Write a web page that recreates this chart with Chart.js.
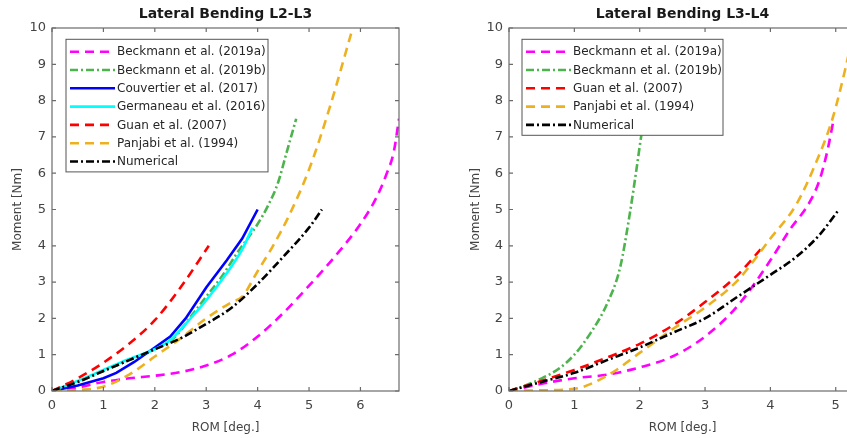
<!DOCTYPE html>
<html lang="en">
<head>
<meta charset="UTF-8">
<title>Lateral Bending</title>
<script src="https://cdn.jsdelivr.net/npm/chart.js@4.4.0/dist/chart.umd.min.js"></script>
<style>
    html, body { margin: 0; padding: 0; background: #fff; width: 847px; height: 438px; overflow: hidden; }
    .wrap { position: absolute; top: 0; height: 438px; }
    #wrapL { left: 0; width: 430px; }
    #wrapR { left: 450px; width: 420px; }
</style>
</head>
<body>
<div class="wrap" id="wrapL"><canvas id="chartL23" width="430" height="438"></canvas></div>
<div class="wrap" id="wrapR"><canvas id="chartL34" width="420" height="438"></canvas></div>
<script>
// ---- L2-L3 curves: ROM [deg.] / Moment [Nm] ----
const beckA23_x = [0, 0.5, 1, 1.5, 2, 2.5, 3, 3.5, 4, 4.5, 5, 5.5, 6, 6.3, 6.5, 6.65, 6.75];
const beckA23_y = [0, 0.1, 0.25, 0.35, 0.42, 0.52, 0.7, 1.0, 1.5, 2.15, 2.9, 3.7, 4.6, 5.3, 5.95, 6.6, 7.5];
const beckB23_x = [0, 0.5, 1, 1.5, 2, 2.4, 2.7, 3, 3.3, 3.6, 4, 4.2, 4.4, 4.55, 4.75];
const beckB23_y = [0, 0.25, 0.55, 0.85, 1.15, 1.5, 2.05, 2.6, 3.15, 3.8, 4.6, 5.1, 5.75, 6.5, 7.5];
const couv23_x = [0, 0.5, 1, 1.25, 1.6, 2, 2.3, 2.6, 3, 3.4, 3.7, 4];
const couv23_y = [0, 0.15, 0.35, 0.5, 0.8, 1.2, 1.5, 2.0, 2.85, 3.6, 4.2, 5.0];
const germ23_x = [0, 0.5, 1, 1.5, 2, 2.3, 2.6, 3, 3.4, 3.7, 3.9];
const germ23_y = [0, 0.28, 0.58, 0.88, 1.15, 1.4, 1.85, 2.5, 3.25, 3.9, 4.5];
const guan23_x = [0, 0.5, 1, 1.5, 2, 2.5, 3.05];
const guan23_y = [0, 0.35, 0.78, 1.3, 1.95, 2.85, 4.0];
const panj23_x = [0, 0.5, 1, 1.5, 2, 2.5, 3, 3.5, 3.7, 4, 4.3, 4.6, 5, 5.4, 5.85];
const panj23_y = [0, 0.03, 0.12, 0.45, 0.95, 1.45, 2.0, 2.45, 2.6, 3.3, 4.0, 4.8, 6.1, 7.8, 10];
const num23_x = [0, 0.5, 1, 1.5, 2, 2.5, 3, 3.5, 4, 4.5, 5, 5.25];
const num23_y = [0, 0.25, 0.55, 0.85, 1.15, 1.45, 1.85, 2.3, 2.95, 3.7, 4.5, 5.0];

// ---- L3-L4 curves ----
const beckA34_x = [0, 0.5, 1, 1.5, 2, 2.5, 3, 3.5, 4, 4.3, 4.6, 4.75, 4.87, 4.97];
const beckA34_y = [0, 0.2, 0.35, 0.45, 0.65, 0.95, 1.5, 2.35, 3.6, 4.45, 5.2, 5.8, 6.6, 7.5];
const beckB34_x = [0, 0.25, 0.5, 0.75, 1, 1.25, 1.5, 1.7, 1.85, 1.95, 2.03, 2.07];
const beckB34_y = [0, 0.15, 0.35, 0.6, 1.0, 1.6, 2.4, 3.4, 4.9, 6.1, 7.1, 7.5];
const guan34_x = [0, 0.5, 1, 1.5, 2, 2.5, 3, 3.5, 3.85];
const guan34_y = [0, 0.28, 0.58, 0.92, 1.3, 1.8, 2.45, 3.2, 3.9];
const panj34_x = [0, 0.5, 1, 1.5, 2, 2.5, 3, 3.5, 4, 4.4, 4.7, 4.95, 5.15, 5.31];
const panj34_y = [0, 0.02, 0.06, 0.42, 1.05, 1.7, 2.3, 3.05, 4.2, 5.15, 6.3, 7.5, 8.9, 10.2];
const num34_x = [0, 0.5, 1, 1.5, 2, 2.5, 3, 3.5, 4, 4.4, 4.75, 5.05];
const num34_y = [0, 0.25, 0.5, 0.85, 1.2, 1.6, 2.0, 2.6, 3.2, 3.7, 4.3, 5.0];

// axis limits / ticks
const yTicks = [0, 1, 2, 3, 4, 5, 6, 7, 8, 9, 10];
const xMax23 = 6.75;
const xMax34 = 5.31;

const FONT = 'DejaVu Sans';
const DASH = [9, 6];
const DASHDOT = [8, 3, 2, 3];

function pts(xs, ys) {
    return xs.map((x, i) => ({ x: x, y: ys[i] }));
}

function series(label, xs, ys, color, dash, smooth) {
    return {
        label: label,
        data: pts(xs, ys),
        borderColor: color,
        backgroundColor: color,
        borderWidth: 2.6,
        borderDash: dash,
        pointRadius: 0,
        fill: false,
        cubicInterpolationMode: smooth ? 'monotone' : 'default',
        tension: 0
    };
}

// box around the axes with inward tick marks on all four sides
const axesBox = {
    id: 'axesBox',
    afterDatasetsDraw(chart) {
        const { ctx, chartArea: a, scales } = chart;
        ctx.save();
        ctx.strokeStyle = '#6b6b6b';
        ctx.lineWidth = 1.2;
        ctx.setLineDash([]);
        ctx.strokeRect(a.left, a.top, a.right - a.left, a.bottom - a.top);
        const len = 4;
        ctx.beginPath();
        scales.x.ticks.forEach(t => {
            const px = scales.x.getPixelForValue(t.value);
            ctx.moveTo(px, a.bottom); ctx.lineTo(px, a.bottom - len);
            ctx.moveTo(px, a.top); ctx.lineTo(px, a.top + len);
        });
        scales.y.ticks.forEach(t => {
            const py = scales.y.getPixelForValue(t.value);
            ctx.moveTo(a.left, py); ctx.lineTo(a.left + len, py);
            ctx.moveTo(a.right, py); ctx.lineTo(a.right - len, py);
        });
        ctx.stroke();
        ctx.restore();
    }
};

// legend box in the upper left corner of the axes, white fill on top of the lines
const boxLegend = {
    id: 'boxLegend',
    afterDatasetsDraw(chart, args, opts) {
        const { ctx, chartArea: a } = chart;
        const sets = chart.data.datasets;
        const rowH = 18.3;
        const x0 = a.left + opts.left;
        const firstRow = a.top + 23.7;
        const y0 = firstRow - 12.4;
        const h = sets.length * rowH + 4.5;
        ctx.save();
        ctx.fillStyle = '#fff';
        ctx.fillRect(x0, y0, opts.width, h);
        ctx.strokeStyle = '#555';
        ctx.lineWidth = 1;
        ctx.strokeRect(x0, y0, opts.width, h);
        ctx.font = '12px "' + FONT + '"';
        ctx.textBaseline = 'middle';
        ctx.textAlign = 'left';
        sets.forEach((ds, i) => {
            const cy = firstRow + i * rowH;
            ctx.strokeStyle = ds.borderColor;
            ctx.lineWidth = ds.borderWidth;
            ctx.setLineDash(ds.borderDash || []);
            ctx.beginPath();
            ctx.moveTo(x0 + 4, cy);
            ctx.lineTo(x0 + 49, cy);
            ctx.stroke();
            ctx.setLineDash([]);
            ctx.fillStyle = '#262626';
            ctx.fillText(ds.label, x0 + 51, cy + 0.5);
        });
        ctx.restore();
    }
};

// bold title centred over the axes
const axesTitle = {
    id: 'axesTitle',
    afterDraw(chart, args, opts) {
        const { ctx, chartArea: a } = chart;
        ctx.save();
        ctx.font = 'bold 14px "' + FONT + '"';
        ctx.fillStyle = '#1a1a1a';
        ctx.textAlign = 'center';
        ctx.textBaseline = 'middle';
        ctx.fillText(opts.text, (a.left + a.right) / 2, 14.5);
        ctx.restore();
    }
};

function makeChart(id, datasets, cfg) {
    return new Chart(document.getElementById(id), {
        type: 'line',
        data: { datasets: datasets },
        plugins: [axesBox, boxLegend, axesTitle],
        options: {
            responsive: false,
            animation: false,
            layout: { padding: { top: 28, right: cfg.padRight, left: 0, bottom: 0 } },
            plugins: {
                legend: { display: false },
                tooltip: { enabled: false },
                boxLegend: { left: cfg.legendLeft, width: cfg.legendWidth },
                axesTitle: { text: cfg.title }
            },
            scales: {
                x: {
                    type: 'linear',
                    min: 0,
                    max: cfg.xMax,
                    afterFit(s) { s.height = 47; },
                    grid: { display: false, drawTicks: false },
                    border: { display: false },
                    ticks: {
                        stepSize: 1, includeBounds: false, autoSkip: false, maxRotation: 0,
                        padding: 7, color: '#444', font: { family: FONT, size: 13 }
                    },
                    title: {
                        display: true, text: 'ROM [deg.]', color: '#444',
                        font: { family: FONT, size: 12 }, padding: { top: 0, bottom: 3 }
                    }
                },
                y: {
                    type: 'linear',
                    min: yTicks[0],
                    max: yTicks[yTicks.length - 1],
                    afterFit(s) { s.width = cfg.yWidth; },
                    afterBuildTicks(s) { s.ticks = yTicks.map(v => ({ value: v })); },
                    grid: { display: false, drawTicks: false },
                    border: { display: false },
                    ticks: {
                        autoSkip: false, padding: 6, color: '#444',
                        font: { family: FONT, size: 13 }
                    },
                    title: {
                        display: true, text: 'Moment [Nm]', color: '#444',
                        font: { family: FONT, size: 12 }, padding: { top: cfg.yTitlePad, bottom: 0 }
                    }
                }
            }
        }
    });
}

const setsL23 = [
    series('Beckmann et al. (2019a)', beckA23_x, beckA23_y, '#ff00ff', DASH, true),
    series('Beckmann et al. (2019b)', beckB23_x, beckB23_y, '#4db34d', DASHDOT, true),
    series('Couvertier et al. (2017)', couv23_x, couv23_y, '#0000ff', [], false),
    series('Germaneau et al. (2016)', germ23_x, germ23_y, '#00ffff', [], true),
    series('Guan et al. (2007)', guan23_x, guan23_y, '#ff0000', DASH, true),
    series('Panjabi et al. (1994)', panj23_x, panj23_y, '#edb120', DASH, true),
    series('Numerical', num23_x, num23_y, '#000000', DASHDOT, true)
];
// later series are drawn on top
setsL23.forEach((d, i) => { d.order = setsL23.length - i; });

const setsL34 = [
    series('Beckmann et al. (2019a)', beckA34_x, beckA34_y, '#ff00ff', DASH, true),
    series('Beckmann et al. (2019b)', beckB34_x, beckB34_y, '#4db34d', DASHDOT, true),
    series('Guan et al. (2007)', guan34_x, guan34_y, '#ff0000', DASH, true),
    series('Panjabi et al. (1994)', panj34_x, panj34_y, '#edb120', DASH, true),
    series('Numerical', num34_x, num34_y, '#000000', DASHDOT, true)
];
setsL34.forEach((d, i) => { d.order = setsL34.length - i; });

makeChart('chartL23', setsL23, {
    title: 'Lateral Bending L2-L3', xMax: xMax23, padRight: 31, yWidth: 52,
    yTitlePad: 10.3, legendLeft: 14, legendWidth: 202
});
makeChart('chartL34', setsL34, {
    title: 'Lateral Bending L3-L4', xMax: xMax34, padRight: 14, yWidth: 59,
    yTitlePad: 18.8, legendLeft: 13, legendWidth: 201
});
</script>
</body>
</html>
